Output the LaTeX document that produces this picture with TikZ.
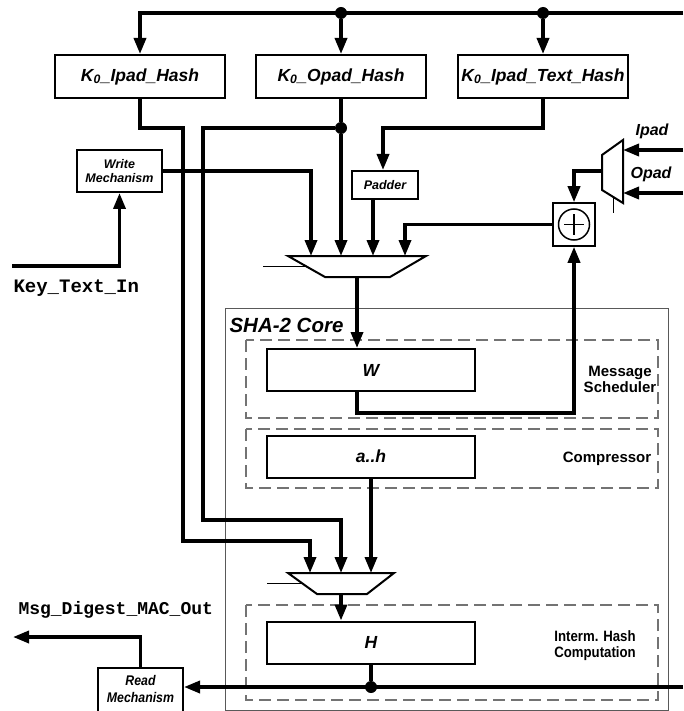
\documentclass[tikz,border=0pt]{standalone}
\usepackage{fontspec}
\setmainfont{Liberation Sans}
\setmonofont{Liberation Mono}
\newfontfamily\narrowfont{Liberation Sans}[FakeStretch=0.88]
\usetikzlibrary{arrows.meta}

\begin{document}
\begin{tikzpicture}[x=1pt,y=-1pt,
  wire/.style={line width=3.5pt},
  arr/.style={wire,-{Triangle[width=12pt,length=16pt]}},
  thinwire/.style={line width=1pt},
  blk/.style={draw,line width=2pt,fill=white,inner sep=0pt,
    font=\bfseries\itshape\fontsize{17.5}{20}\selectfont},
  hashbox/.style={blk,minimum width=170pt,minimum height=43pt},
  regbox/.style={blk,minimum width=208pt,minimum height=42pt},
  smallbox/.style={blk,align=center,
    font=\bfseries\itshape\fontsize{12.5}{15}\selectfont},
  muxshape/.style={draw,line width=2pt,fill=white,line join=miter},
  dot/.style={circle,fill=black,inner sep=0pt,minimum size=12pt},
  stage/.style={draw=black!55,line width=1.2pt,dash pattern=on 12pt off 6pt},
  stagelabel/.style={font=\bfseries\fontsize{15}{18}\selectfont,align=center},
  portlabel/.style={font=\bfseries\itshape\fontsize{16}{18}\selectfont},
  iolabel/.style={font=\ttfamily\bfseries\fontsize{19}{22}\selectfont,anchor=west}
]
\fill[white] (0,0) rectangle (683,711);
\useasboundingbox (0,0) rectangle (683,711);

% SHA-2 core frame and its stages
\draw[draw=black!65,line width=1pt] (225,308) rectangle (668,710);
\node[anchor=west,font=\bfseries\itshape\fontsize{20.5}{24}\selectfont] (corelbl) at (226,325) {SHA-2 Core};
\draw[stage] (246,340) rectangle (658,418);
\draw[stage] (246,429) rectangle (658,488);
\draw[stage] (246,605) rectangle (658,700);
\node[stagelabel] (mslbl) at (620,379) {Message\\[-2pt]Scheduler};
\node[stagelabel] (cmplbl) at (607,459) {Compressor};
\node[stagelabel,font=\narrowfont\bfseries\fontsize{15}{18}\selectfont] (ihlbl) at (595,646) {Interm. Hash\\[-2pt]Computation};

% hash state registers
\node[hashbox] (kih) at (140,76.5) {K\textsubscript{0}\_Ipad\_Hash};
\node[hashbox] (koh) at (341,76.5) {K\textsubscript{0}\_Opad\_Hash};
\node[hashbox] (kth) at (543,76.5) {K\textsubscript{0}\_Ipad\_Text\_Hash};

% core registers
\node[regbox] (W) at (371,370) {W};
\node[regbox] (AH) at (371,456.5) {a..h};
\node[regbox] (H) at (371,642.5) {H};

% helper blocks
\node[smallbox,minimum width=85pt,minimum height=42pt] (wr) at (119.5,171) {Write\\[-1pt]Mechanism};
\node[smallbox,minimum width=66pt,minimum height=28pt] (pad) at (385,185) {Padder};
\node[blk,minimum width=85pt,minimum height=48pt] (rd) at (140.5,692) {};
\node[align=center,inner sep=0pt,
  font=\narrowfont\bfseries\itshape\fontsize{14}{16}\selectfont] (rdlbl) at (140.5,689) {Read\\[1pt]Mechanism};
\node[draw,line width=1.5pt,fill=white,minimum width=42pt,minimum height=43pt] (xor) at (574,224.5) {};
\draw[line width=1.5pt] (xor.center) circle (15.5pt);
\draw[line width=1.5pt] ([xshift=-10pt]xor.center) -- ([xshift=10pt]xor.center)
  ([yshift=-10pt]xor.center) -- ([yshift=10pt]xor.center);

% message multiplexer
\draw[muxshape] (288,256) -- (426,256) -- (390,277) -- (325,277) -- cycle;
\coordinate (mA1) at (311,256);
\coordinate (mA2) at (341,256);
\coordinate (mA3) at (373,256);
\coordinate (mA4) at (405,256);
\coordinate (mAo) at (357,277);
\coordinate (mAs) at (305.5,266);
\draw[thinwire] (263,266) -- (mAs);

% hash multiplexer
\draw[muxshape] (288,573) -- (394,573) -- (367,594) -- (317,594) -- cycle;
\coordinate (mB1) at (310,573);
\coordinate (mB2) at (341,573);
\coordinate (mB3) at (371,573);
\coordinate (mBo) at (341,594);
\coordinate (mBs) at (302,583);
\draw[thinwire] (267,583) -- (mBs);

% pad constant multiplexer
\draw[muxshape] (602,155) -- (623,140) -- (623,203) -- (602,190) -- cycle;
\coordinate (pIn1) at (623,150);
\coordinate (pIn2) at (623,193);
\coordinate (pOut) at (602,171);
\draw[thinwire] (613,197) -- (613,213);
\node[portlabel] (ipadlbl) at (652,131) {Ipad};
\node[portlabel] (opadlbl) at (651,174) {Opad};
\coordinate (ipadsrc) at (683,150);
\coordinate (opadsrc) at (683,193);
\draw[arr] (ipadsrc) -- (pIn1);
\draw[arr] (opadsrc) -- (pIn2);
\draw[arr] (pOut) -| (xor.north);

% key/text input bus
\coordinate (busR) at (683,13);
\coordinate (busL) at (140,13);
\node[dot] (d1) at (341,13) {};
\node[dot] (d2) at (543,13) {};
\draw[arr] (busR) -- (busL) -- (kih.north);
\draw[arr] (d1) -- (koh.north);
\draw[arr] (d2) -- (kth.north);

% register outputs
\coordinate (k1a) at (183,128);
\coordinate (k1b) at (183,541);
\draw[arr] (kih.south) |- (k1a) -- (k1b) -| (mB1);
\node[dot] (d3) at (341,128) {};
\draw[wire] (koh.south) -- (d3);
\draw[arr] (d3) -- (mA2);
\coordinate (k2a) at (203,128);
\coordinate (k2b) at (203,520);
\draw[arr] (d3) -- (k2a) -- (k2b) -| (mB2);
\coordinate (k3a) at (383,128);
\draw[arr] (kth.south) |- (k3a) -- (k3a |- pad.north);
\draw[arr] (pad.south -| mA3) -- (mA3);
\draw[arr] (xor.west) -| (mA4);

% write path
\coordinate (keyin) at (12,266);
\node[iolabel] (keylbl) at (10,288) {Key\_Text\_In};
\draw[arr] (keyin) -| (wr.south);
\draw[arr] (wr.east) -| (mA1);

% core datapath
\draw[arr] (mAo) -- (mAo |- W.north);
\coordinate (wloop) at (357,413);
\draw[arr] (W.south -| wloop) -- (wloop) -| (xor.south);
\draw[arr] (AH.south) -- (mB3);
\draw[arr] (mBo) -- (mBo |- H.north);

% digest output
\node[dot] (d4) at (371,687) {};
\draw[wire] (H.south) -- (d4);
\coordinate (busBR) at (683,687);
\draw[arr] (busBR) -- (rd.east |- busBR);
\coordinate (macout) at (13,637);
\draw[arr] (rd.north) |- (macout);
\node[iolabel,font=\ttfamily\bfseries\fontsize{18}{22}\selectfont] (maclbl) at (15,610) {Msg\_Digest\_MAC\_Out};
\end{tikzpicture}
\end{document}
